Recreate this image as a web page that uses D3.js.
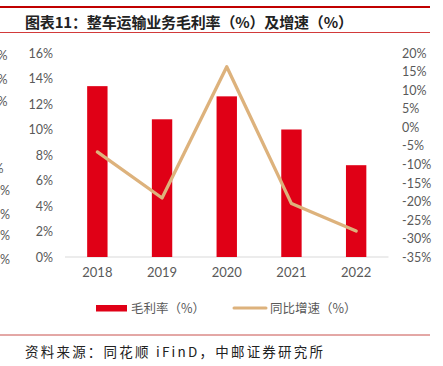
<!DOCTYPE html>
<html>
<head>
<meta charset="utf-8">
<script src="https://cdn.jsdelivr.net/npm/d3@7"></script>
<style>
  body { margin: 0; background: #fff; }
  svg { display: block; }
</style>
</head>
<body>
<div class="chart"></div>
<script>
// data
const years = ["2018", "2019", "2020", "2021", "2022"];
const margin = [13.4, 10.8, 12.6, 10.0, 7.2];       // 毛利率 %
const growth = [-6.6, -19.0, 16.3, -20.5, -27.9];   // 同比增速 %
const leftTicks = [0, 2, 4, 6, 8, 10, 12, 14, 16];
const rightTicks = [20, 15, 10, 5, 0, -5, -10, -15, -20, -25, -30, -35];
// bits of the neighbouring chart's axis that are cut off at the left edge
const ghostText = ["%", "%", "%", "%", "0%", "%", "0%", "%"];
const ghostY = [55, 79, 101, 168, 190, 214, 235, 259];
const ghostX = [7.5, 7.5, 7.5, 3.5, 10, 10, 10, 10];

const W = 443, H = 366;
const red = "#E00016", tan = "#DDB27C", grey = "#595959";
const numFont = "Lato, 'Open Sans', sans-serif";
const cjkFont = "'Noto Sans CJK SC', sans-serif";

const svg = d3.select(".chart").append("svg")
  .attr("width", W)
  .attr("height", H);

svg.append("rect").attr("width", W).attr("height", H).attr("fill", "#fff");

// header
svg.append("line")
  .attr("x1", 0).attr("x2", 430).attr("y1", 7).attr("y2", 7)
  .style("stroke", "#C00000").style("stroke-width", 2);
svg.append("text")
  .attr("x", 25).attr("y", 27.5)
  .attr("textLength", 328).attr("lengthAdjust", "spacing")
  .style("font-family", cjkFont).style("font-weight", "bold")
  .style("font-size", "15px").style("fill", "#222")
  .text("图表11：整车运输业务毛利率（%）及增速（%）");
svg.append("line")
  .attr("x1", 0).attr("x2", 430).attr("y1", 32.5).attr("y2", 32.5)
  .style("stroke", "#D23A3A").style("stroke-width", 1);

// scales
const x = d3.scaleBand().domain(years).range([65, 388.5])
  .paddingInner(0.685).paddingOuter(0.3425);
const yL = d3.scaleLinear().domain([0, 16]).range([257, 53]);
const yR = d3.scaleLinear().domain([-35, 20]).range([257.5, 53]);

// axes
const left = svg.append("g").attr("transform", "translate(53,0)")
  .call(d3.axisLeft(yL).tickValues(leftTicks).tickFormat(d => d + "%").tickSize(0).tickPadding(0));
const right = svg.append("g").attr("transform", "translate(402,0)")
  .call(d3.axisRight(yR).tickValues(rightTicks).tickFormat(d => d + "%").tickSize(0).tickPadding(0));
const bottom = svg.append("g").attr("transform", "translate(0,257)")
  .call(d3.axisBottom(x).tickSize(0).tickPadding(11));

[left, right, bottom].forEach(g => {
  g.select(".domain").remove();
  g.selectAll("text")
    .style("font-family", numFont)
    .style("font-size", "12.5px")
    .style("fill", grey);
});
bottom.selectAll("text").style("font-size", "13px");

svg.append("line")
  .attr("x1", 65).attr("x2", 388.5).attr("y1", 257).attr("y2", 257)
  .style("stroke", "#D9D9D9").style("stroke-width", 1);

// bars
svg.selectAll("rect.bar")
  .data(margin)
  .enter()
  .append("rect")
  .attr("class", "bar")
  .attr("x", (d, i) => x(years[i]))
  .attr("width", x.bandwidth())
  .attr("y", d => yL(d))
  .attr("height", d => yL(0) - yL(d))
  .style("fill", red);

// growth line
const line = d3.line()
  .x((d, i) => x(years[i]) + x.bandwidth() / 2)
  .y(d => yR(d));

svg.append("path")
  .attr("d", line(growth))
  .style("fill", "none")
  .style("stroke", tan)
  .style("stroke-width", 3.3)
  .style("stroke-linecap", "round")
  .style("stroke-linejoin", "round");

// legend
svg.append("rect")
  .attr("x", 96).attr("y", 305).attr("width", 31).attr("height", 6.5)
  .style("fill", red);
svg.append("text")
  .attr("x", 131).attr("y", 312.5)
  .style("font-family", cjkFont).style("font-size", "12.5px").style("fill", grey)
  .text("毛利率（%）");
svg.append("line")
  .attr("x1", 234).attr("x2", 266).attr("y1", 308).attr("y2", 308)
  .style("stroke", tan).style("stroke-width", 3).style("stroke-linecap", "round");
svg.append("text")
  .attr("x", 270).attr("y", 312.5)
  .style("font-family", cjkFont).style("font-size", "12.5px").style("fill", grey)
  .text("同比增速（%）");

// cut-off labels on the left edge
svg.selectAll("text.ghost")
  .data(ghostText)
  .enter()
  .append("text")
  .attr("class", "ghost")
  .attr("x", (d, i) => ghostX[i])
  .attr("y", (d, i) => ghostY[i] + 4.5)
  .attr("text-anchor", "end")
  .style("font-family", numFont).style("font-size", "12.5px").style("fill", grey)
  .text(d => d);

// source
svg.append("line")
  .attr("x1", 0).attr("x2", 430).attr("y1", 335).attr("y2", 335)
  .style("stroke", "#C8504D").style("stroke-width", 1);
svg.append("text")
  .attr("x", 25).attr("y", 357)
  .attr("textLength", 298).attr("lengthAdjust", "spacing")
  .style("font-family", cjkFont).style("font-size", "13.5px").style("fill", "#222")
  .text("资料来源：同花顺 iFinD，中邮证券研究所");
</script>
</body>
</html>
